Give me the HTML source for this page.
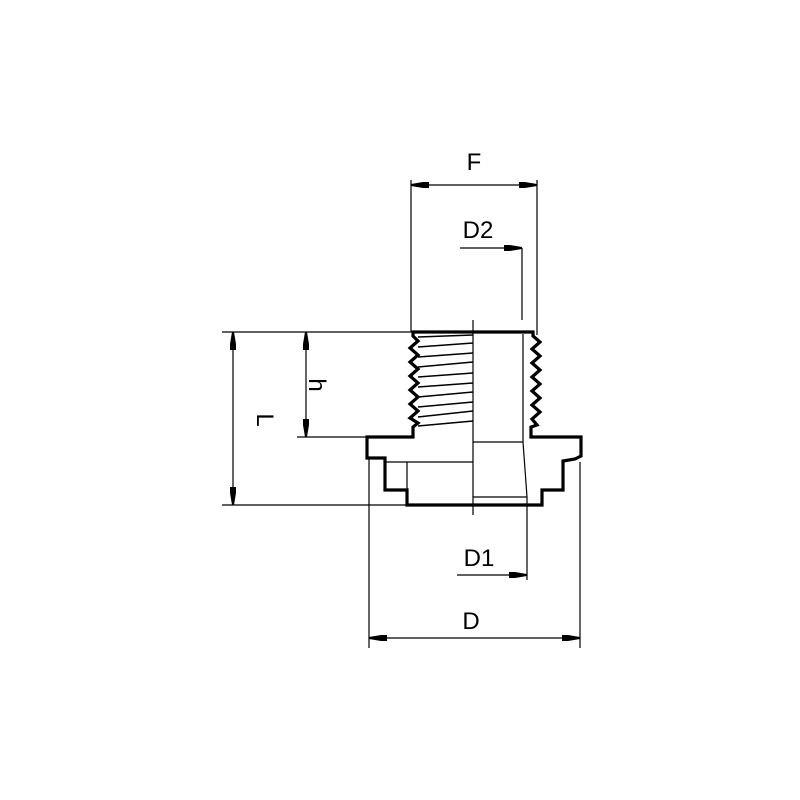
<!DOCTYPE html>
<html><head><style>body{margin:0;background:#fff}svg{display:block}</style></head>
<body>
<svg width="800" height="800" viewBox="0 0 800 800" xmlns="http://www.w3.org/2000/svg" font-family="Liberation Sans, sans-serif">
<rect width="800" height="800" fill="#fff"/>
<defs>
<marker id="a" viewBox="0 0 18 8" refX="18" refY="4" markerWidth="18" markerHeight="8" markerUnits="userSpaceOnUse" orient="auto-start-reverse"><path d="M0,1 L6,1 L18,3 L18,5 L6,7 L0,7 Z" fill="#000"/></marker>
</defs>
<g stroke="#000" stroke-width="1.2" fill="none">
<line x1="411" y1="180" x2="411" y2="332"/>
<line x1="537" y1="180" x2="537" y2="335"/>
<line x1="222" y1="332" x2="413" y2="332"/>
<line x1="222" y1="505" x2="410" y2="505"/>
<line x1="297" y1="437" x2="413" y2="437"/>
<line x1="369" y1="458" x2="369" y2="648"/>
<line x1="580" y1="462" x2="580" y2="648"/>
<line x1="522" y1="248" x2="522" y2="320"/>
<line x1="527" y1="497" x2="527" y2="580"/>
<line x1="473" y1="320" x2="473" y2="515"/>
<line x1="411" y1="185" x2="537" y2="185" marker-start="url(#a)" marker-end="url(#a)"/>
<line x1="460" y1="248" x2="522" y2="248" marker-end="url(#a)"/>
<line x1="457" y1="575" x2="527" y2="575" marker-end="url(#a)"/>
<line x1="369" y1="638" x2="580" y2="638" marker-start="url(#a)" marker-end="url(#a)"/>
<line x1="233" y1="332" x2="233" y2="505" marker-start="url(#a)" marker-end="url(#a)"/>
<line x1="306" y1="332" x2="306" y2="437" marker-start="url(#a)" marker-end="url(#a)"/>
<line x1="473" y1="442" x2="523" y2="442"/>
<line x1="523" y1="334" x2="523" y2="442"/>
<line x1="523" y1="442" x2="527" y2="497"/>
<line x1="473" y1="497" x2="527" y2="497"/>
<line x1="385" y1="462" x2="473" y2="462"/>
<line x1="407" y1="462" x2="407" y2="505"/>
<g stroke-width="1.4">
<line x1="418" y1="337" x2="473" y2="335"/>
<line x1="418" y1="347" x2="473" y2="343"/>
<line x1="418" y1="357" x2="473" y2="353"/>
<line x1="418" y1="367" x2="473" y2="362"/>
<line x1="418" y1="377" x2="473" y2="373"/>
<line x1="418" y1="387" x2="473" y2="383"/>
<line x1="418" y1="397" x2="473" y2="392"/>
<line x1="418" y1="407" x2="473" y2="402"/>
<line x1="418" y1="417" x2="473" y2="411"/>
<line x1="418" y1="426" x2="473" y2="421"/>
</g>
<path stroke-width="3.2" stroke-linejoin="miter" d="M413,332 L533,332 L533,336 L540,342 L532,349 L540,356 L532,363 L540,370 L532,377 L540,384 L532,391 L540,398 L532,405 L540,412 L532,419 L537,425 L531,427 L531,437 L581,437 L581,456 L575,459 L563,461 L563,490 L542,490 L542,505 L407,505 L407,490 L385,490 L385,458 L367,458 L367,437 L413,437 L413,427 L418,423 L410,418 L418,411 L410,404 L418,397 L410,390 L418,383 L410,376 L418,369 L410,362 L418,355 L410,348 L418,341 L413,336 Z"/>
</g>
<g font-size="24" fill="#000" text-anchor="middle">
<text x="474" y="170">F</text>
<text x="478" y="238">D2</text>
<text x="479" y="566">D1</text>
<text x="471" y="629">D</text>
<text transform="translate(257,420) rotate(90)">L</text>
<text transform="translate(309,385) rotate(90)">h</text>
</g>
</svg>
</body></html>
